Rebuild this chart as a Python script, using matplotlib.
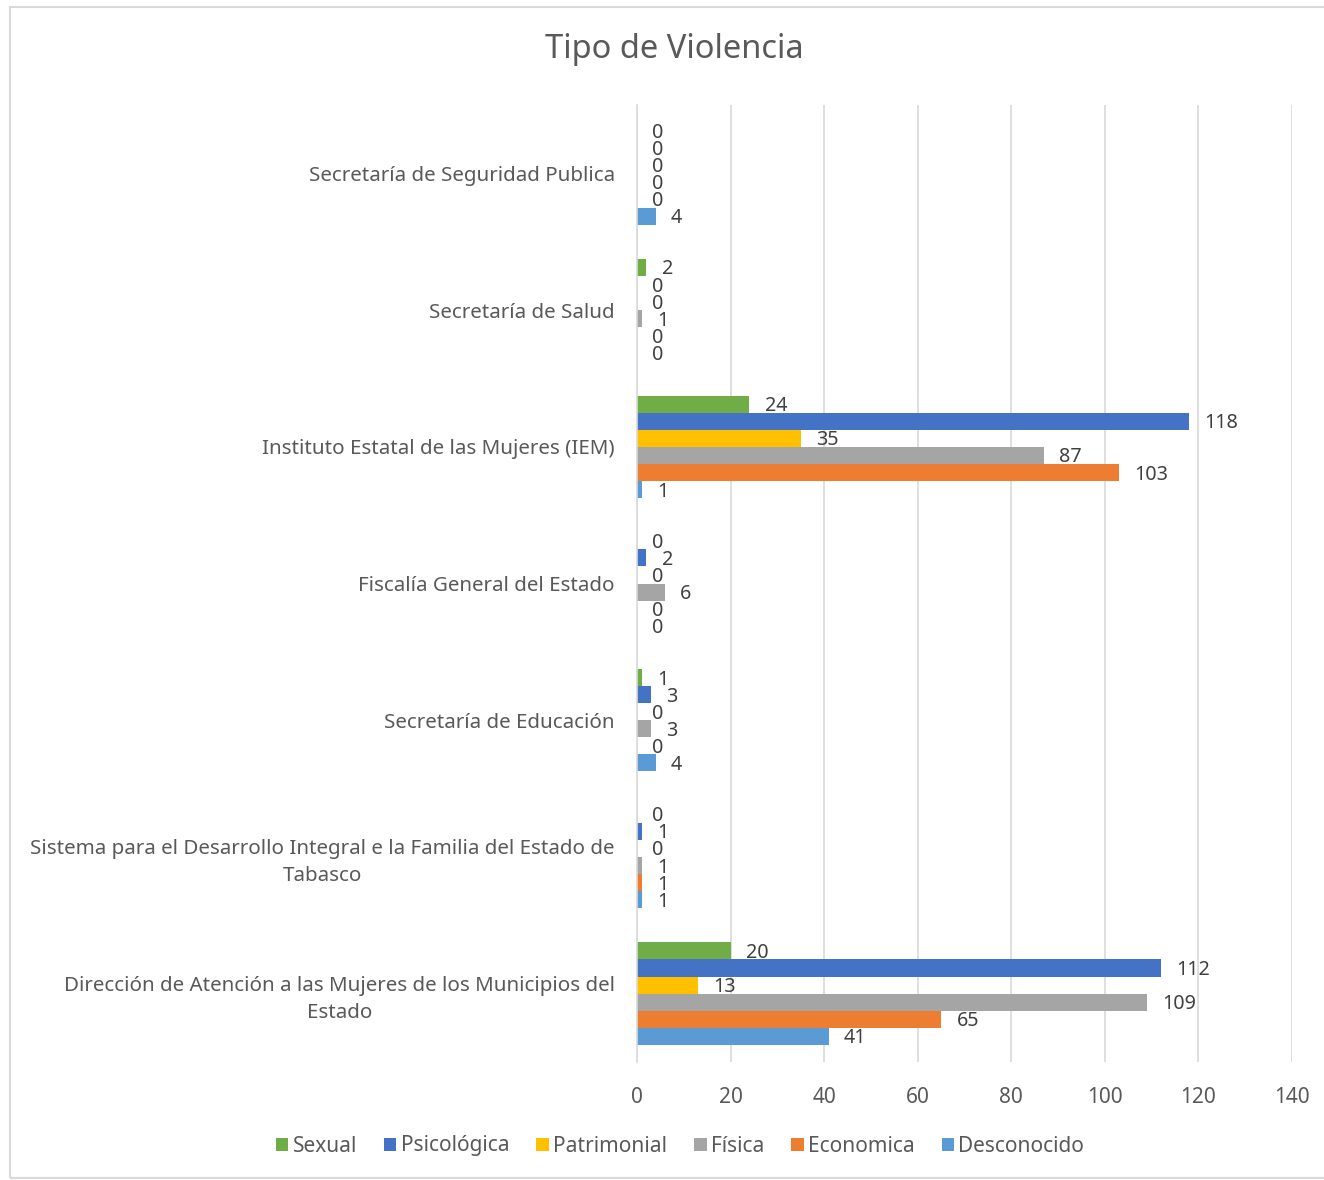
import matplotlib.pyplot as plt
import numpy as np
from matplotlib.patches import Rectangle

# categories listed bottom -> top, as Excel draws them
categories = [
    "Dirección de Atención a las Mujeres de los Municipios del\nEstado",
    "Sistema para el Desarrollo Integral e la Familia del Estado de\nTabasco",
    "Secretaría de Educación",
    "Fiscalía General del Estado",
    "Instituto Estatal de las Mujeres (IEM)",
    "Secretaría de Salud",
    "Secretaría de Seguridad Publica",
]

series_names = ["Sexual", "Psicológica", "Patrimonial", "Física", "Economica", "Desconocido"]
series_colors = ["#70AD47", "#4472C4", "#FFC000", "#A5A5A5", "#ED7D31", "#5B9BD5"]

sexual = [20, 0, 1, 0, 24, 2, 0]
psicologica = [112, 1, 3, 2, 118, 0, 0]
patrimonial = [13, 0, 0, 0, 35, 0, 0]
fisica = [109, 1, 3, 6, 87, 1, 0]
economica = [65, 1, 0, 0, 103, 0, 0]
desconocido = [41, 1, 4, 0, 1, 0, 4]
series_values = [sexual, psicologica, patrimonial, fisica, economica, desconocido]

x_ticks = [0, 20, 40, 60, 80, 100, 120, 140]

W, H = 1324, 1180
plt.rcParams["font.family"] = ["Noto Sans", "DejaVu Sans"]

fig = plt.figure(figsize=(W / 100, H / 100), dpi=100)
fig.patches.append(Rectangle((10 / W, 1 - 1178 / H), 1.2, (1178 - 7) / H,
                             transform=fig.transFigure, fill=False,
                             edgecolor="#D9D9D9", linewidth=1.5))

ax = fig.add_axes([637 / W, 1 - 1062 / H, (1292 - 637) / W, (1062 - 105) / H])

y = np.arange(len(categories))
h = 0.125
n = len(series_names)
for i, (name, vals, col) in enumerate(zip(series_names, series_values, series_colors)):
    pos = y + (n - 1) / 2 * h - i * h
    bars = ax.barh(pos, vals, height=h, color=col, label=name)
    # etiquetas de datos a la derecha de cada barra
    for b, v in zip(bars, vals):
        ax.annotate(str(v), (v, b.get_y() + h / 2), xytext=(11, -1.5),
                    textcoords="offset points", ha="left", va="center",
                    fontsize=14.2, color="#404040")

ax.set_xlim(0, 140)
ax.set_ylim(-0.5, len(categories) - 0.5)
ax.set_xticks(x_ticks)
ax.set_yticks(y)
ax.set_yticklabels(categories, fontsize=14.8, linespacing=1.45)
for lab in ax.get_yticklabels():
    lab.set_multialignment("center")
ax.tick_params(axis="both", length=0, colors="#595959")
ax.tick_params(axis="x", pad=18, labelsize=15)
ax.tick_params(axis="y", pad=16)
ax.grid(axis="x", color="#D9D9D9", linewidth=1.2)
ax.set_axisbelow(True)
for s in ["top", "right", "bottom"]:
    ax.spines[s].set_visible(False)
ax.spines["left"].set_color("#D9D9D9")
ax.spines["left"].set_linewidth(1.2)

fig.text(674 / W, 1 - 50 / H, "Tipo de Violencia", ha="center", va="center",
         fontsize=23.5, color="#595959")

fig.legend(loc="center", bbox_to_anchor=(680 / W, 1 - 1146 / H), ncol=6,
           frameon=False, fontsize=15, handlelength=0.6, handleheight=0.6,
           handletextpad=0.2, columnspacing=1.3, labelcolor="#595959")

fig.savefig("out.png", dpi=100)
